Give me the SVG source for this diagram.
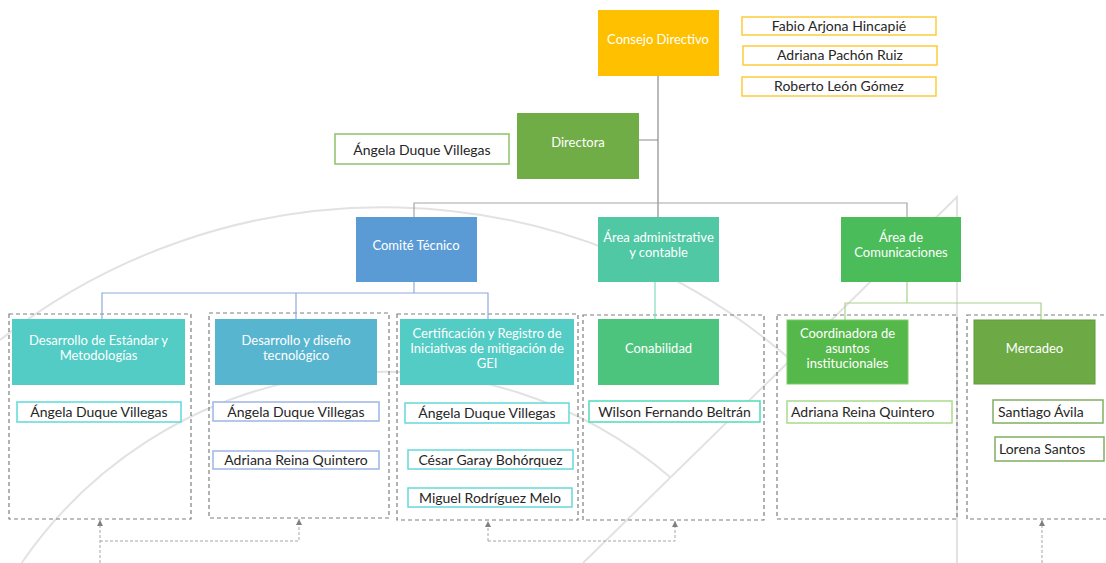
<svg xmlns="http://www.w3.org/2000/svg" width="1106" height="563" viewBox="0 0 1106 563">
<style>
.wm{fill:none;stroke:#E2E2E2;stroke-width:2}
.lbl{font-family:Lato,"Open Sans","Liberation Sans",sans-serif;font-size:13px;fill:#FFFFFF;text-anchor:middle}
.nm{font-family:Lato,"Open Sans","Liberation Sans",sans-serif;font-size:14px;fill:#262626;text-anchor:middle}
.nl{text-anchor:start}
.nb{fill:#FFFFFF;stroke-width:1.5}
.cont{fill:none;stroke:#7F7F7F;stroke-width:1.2;stroke-dasharray:4 3}
.ln{fill:none;stroke-width:1.2}
.dash{fill:none;stroke:#A6A6A6;stroke-width:1;stroke-dasharray:3 2}
</style>
<defs>
<marker id="ah" viewBox="0 0 10 10" refX="10" refY="5" markerWidth="6" markerHeight="6" orient="auto" markerUnits="userSpaceOnUse">
<path d="M0,0 L10,5 L0,10 Z" fill="#7F7F7F"/>
</marker>
</defs>
<rect width="1106" height="563" fill="#FFFFFF"/>
<g id="watermark">
<path class="wm" d="M0,340 A620,620 0 0 1 791,360"/>
<path class="wm" d="M21.6,563 A440,440 0 0 1 670,477"/>
<path class="wm" d="M583,563 L957,197 L957,563"/>
</g>
<g id="containers">
<rect class="cont" x="9" y="314" width="182" height="205"/>
<rect class="cont" x="209" y="313" width="180" height="205"/>
<rect class="cont" x="397" y="314" width="181" height="206"/>
<rect class="cont" x="583" y="315" width="181" height="205"/>
<rect class="cont" x="777" y="315" width="180" height="204"/>
<rect class="cont" x="967" y="315" width="150" height="204"/>
</g>
<g id="connectors">
<path class="ln" stroke="#8C8C8C" d="M658,76 V217 M639,140 H658"/>
<path class="ln" stroke="#A6A6A6" d="M414,217 V203 H907 V217"/>
<path class="ln" stroke="#8FAADC" d="M414,282 V293 M102,319 V293 H488 V319 M296,293 V319"/>
<path class="ln" stroke="#7FDDBE" d="M655,282 V320"/>
<path class="ln" stroke="#A9D18E" d="M907,282 V303 M845,320 V303 H1041 V320"/>
<path class="dash" d="M100,563 V520" marker-end="url(#ah)"/>
<path class="dash" d="M100,541 H299 V519" marker-end="url(#ah)"/>
<path class="dash" d="M488,541 V521" marker-end="url(#ah)"/>
<path class="dash" d="M488,541 H675 V521" marker-end="url(#ah)"/>
<path class="dash" d="M1042,563 V520" marker-end="url(#ah)"/>
</g>
<g id="consejo">
<rect x="598" y="10" width="121" height="66" fill="#FFC000"/>
<text class="lbl" x="658" y="43.5">Consejo Directivo</text>
</g>
<g id="consejo-miembros">
<rect class="nb" x="742" y="17" width="194" height="18" stroke="#FFCB3C"/>
<text class="nm" x="839" y="31">Fabio Arjona Hincapié</text>
<rect class="nb" x="743" y="46" width="194" height="19" stroke="#FFCB3C"/>
<text class="nm" x="840" y="60">Adriana Pachón Ruiz</text>
<rect class="nb" x="742" y="77" width="194" height="19" stroke="#FFCB3C"/>
<text class="nm" x="839" y="91">Roberto León Gómez</text>
</g>
<g id="directora">
<rect x="517" y="113" width="122" height="66" fill="#70AD47"/>
<text class="lbl" x="578" y="147">Directora</text>
</g>
<g id="directora-nombre">
<rect class="nb" x="335" y="134" width="174" height="30" stroke="#8CC26A"/>
<text class="nm" x="422" y="155">Ángela Duque Villegas</text>
</g>
<g id="comite">
<rect x="356" y="217" width="121" height="65" fill="#5B9BD5"/>
<text class="lbl" x="416" y="249.5">Comité Técnico</text>
</g>
<g id="area-admin">
<rect x="598" y="217" width="121" height="65" fill="#4FC8A3"/>
<text class="lbl" x="658.5" y="241.5">Área administrative</text>
<text class="lbl" x="658.5" y="256.5">y contable</text>
</g>
<g id="area-com">
<rect x="841" y="217" width="120" height="65" fill="#4BBC5A"/>
<text class="lbl" x="901" y="241.5">Área de</text>
<text class="lbl" x="901" y="256.5">Comunicaciones</text>
</g>
<g id="estandar">
<rect x="12" y="319" width="173" height="66" fill="#52CCC5"/>
<text class="lbl" x="98.5" y="344.5">Desarrollo de Estándar y</text>
<text class="lbl" x="98.5" y="359.5">Metodologías</text>
<rect class="nb" x="17" y="402" width="164" height="20" stroke="#5DDADA"/>
<text class="nm" x="99" y="417">Ángela Duque Villegas</text>
</g>
<g id="diseno">
<rect x="215" y="319" width="162" height="66" fill="#57B5D0"/>
<text class="lbl" x="296" y="344.5">Desarrollo y diseño</text>
<text class="lbl" x="296" y="359.5">tecnológico</text>
<rect class="nb" x="213" y="402" width="166" height="19" stroke="#9DB5E4"/>
<text class="nm" x="296" y="416.5">Ángela Duque Villegas</text>
<rect class="nb" x="213" y="451" width="166" height="18" stroke="#9DB5E4"/>
<text class="nm" x="296" y="465">Adriana Reina Quintero</text>
</g>
<g id="certificacion">
<rect x="400" y="319" width="174" height="66" fill="#52CCC5"/>
<text class="lbl" x="487" y="337.5">Certificación y Registro de</text>
<text class="lbl" x="487" y="352.5">Iniciativas de mitigación de</text>
<text class="lbl" x="487" y="367.5">GEI</text>
<rect class="nb" x="405" y="403" width="164" height="20" stroke="#66D9D9"/>
<text class="nm" x="487" y="418">Ángela Duque Villegas</text>
<rect class="nb" x="408" y="450" width="165" height="19" stroke="#66D9D9"/>
<text class="nm" x="490.5" y="464.5">César Garay Bohórquez</text>
<rect class="nb" x="408" y="488" width="164" height="19" stroke="#66D9D9"/>
<text class="nm" x="490" y="502.5">Miguel Rodríguez Melo</text>
</g>
<g id="conabilidad">
<rect x="598" y="319" width="121" height="66" fill="#4DC47E"/>
<text class="lbl" x="658.5" y="352.5">Conabilidad</text>
<rect class="nb" x="589" y="401" width="171" height="21" stroke="#4FDBB8"/>
<text class="nm" x="674.5" y="416.5">Wilson Fernando Beltrán</text>
</g>
<g id="coordinadora">
<rect x="787" y="320" width="121" height="64" fill="#55B84A" stroke="#7ACB65" stroke-width="1"/>
<text class="lbl" x="847.5" y="337.5">Coordinadora de</text>
<text class="lbl" x="847.5" y="352.5">asuntos</text>
<text class="lbl" x="847.5" y="367.5">institucionales</text>
<rect class="nb" x="787" y="401" width="165" height="22" stroke="#A8DB8C"/>
<text class="nm nl" x="791" y="417">Adriana Reina Quintero</text>
</g>
<g id="mercadeo">
<rect x="974" y="320" width="121" height="64" fill="#6DAA46" stroke="#5E9A3C" stroke-width="1"/>
<text class="lbl" x="1034.5" y="352.5">Mercadeo</text>
<rect class="nb" x="993" y="400" width="110" height="23" stroke="#7FAF62"/>
<text class="nm nl" x="998" y="416.5">Santiago Ávila</text>
<rect class="nb" x="995" y="437" width="109" height="24" stroke="#7FAF62"/>
<text class="nm nl" x="999" y="454">Lorena Santos</text>
</g>
</svg>
